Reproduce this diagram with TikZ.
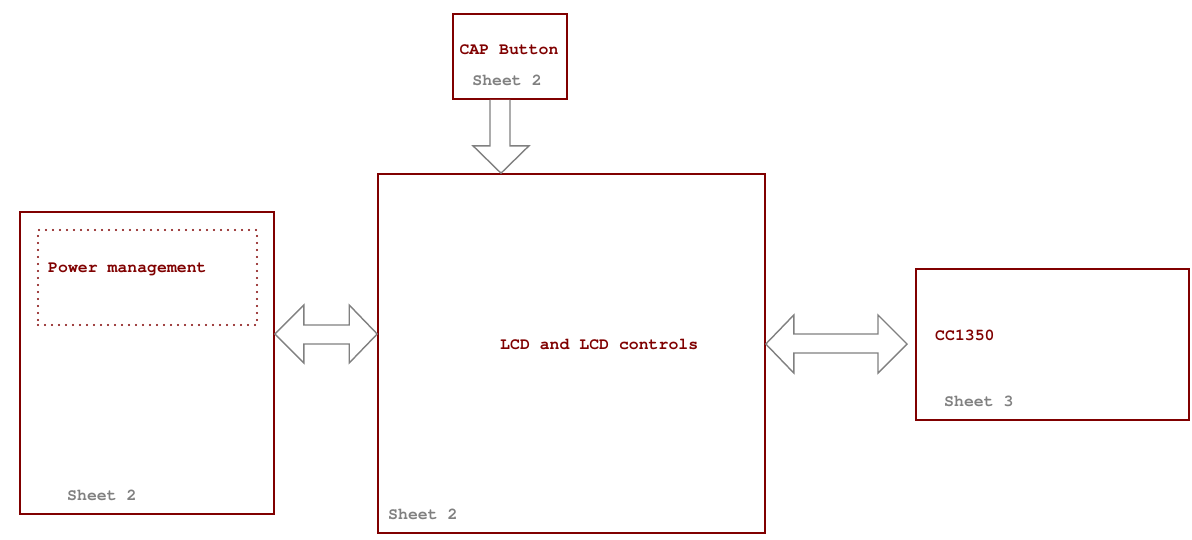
\documentclass[tikz,border=0pt]{standalone}
\usepackage{fontspec}
\setmonofont{texgyrecursor-regular.otf}[BoldFont=texgyrecursor-bold.otf]
\usetikzlibrary{calc}
\definecolor{dred}{HTML}{800000}
\definecolor{agrey}{HTML}{808080}
\begin{document}
\begin{tikzpicture}[x=1pt,y=-1pt,
  blk/.style={draw=dred,line width=1.6pt,fill=white,rectangle,inner sep=0pt},
  title/.style={text=dred,font=\ttfamily\bfseries\fontsize{16.5}{18}\selectfont,inner sep=0pt},
  sheet/.style={text=agrey,font=\ttfamily\bfseries\fontsize{16.5}{18}\selectfont,inner sep=0pt},
  barrow/.style={draw=agrey,line width=1.4pt,fill=white,line join=miter},
  dotbox/.style={draw=dred,line width=2.2pt,line cap=round,dash pattern=on 0pt off 7pt,rectangle,inner sep=0pt}]
\useasboundingbox[fill=white] (0,0) rectangle (1192,539);
% boxes
\node[blk,minimum width=114pt,minimum height=85pt] (cap) at (510,56.5) {};
\node[blk,minimum width=387pt,minimum height=359pt] (lcd) at (571.5,353.5) {};
\node[blk,minimum width=254pt,minimum height=302pt] (pm) at (147,363) {};
\node[dotbox,minimum width=219pt,minimum height=95pt] (pmi) at (147.5,277.5) {};
\node[blk,minimum width=273pt,minimum height=151pt] (cc) at (1052.5,344.5) {};
% texts
\node[title] (capt) at (509,50) {CAP Button};
\node[sheet] (caps) at (507,80.5) {Sheet 2};
\node[title,anchor=west] (pmt) at (48,269) {Power management};
\node[sheet,anchor=west] (pms) at (67,495.5) {Sheet 2};
\node[title,anchor=west] (lcdt) at (500,344.5) {LCD and LCD controls};
\node[sheet,anchor=west] (lcds) at (388,514.5) {Sheet 2};
\node[title,anchor=west] (cct) at (935,335) {CC1350};
\node[sheet,anchor=west] (ccs) at (944,401.5) {Sheet 3};
% down arrow
\coordinate (d0) at ($(cap.south)+(-10,0)$);
\coordinate (d1) at (lcd.north -| d0);
\draw[barrow] ($(d0)+(-10,0)$) -- ($(d0)+(-10,46)$) -- ($(d0)+(-27,46)$) -- ($(d1)+(1,0)$)
  -- ($(d0)+(29,46)$) -- ($(d0)+(10,46)$) -- ($(d0)+(10,0)$);
% left double arrow
\coordinate (l1) at (pm.east |- 0,334);
\coordinate (l2) at (lcd.west |- 0,334);
\draw[barrow] (l1) -- ($(l1)+(29,-29)$) -- ($(l1)+(29,-9)$) -- ($(l2)+(-28,-9)$) -- ($(l2)+(-28,-29)$)
  -- (l2) -- ($(l2)+(-28,29)$) -- ($(l2)+(-28,10)$) -- ($(l1)+(29,10)$) -- ($(l1)+(29,29)$) -- cycle;
% right double arrow
\coordinate (r1) at (lcd.east |- 0,344);
\coordinate (r2) at (907,344);
\draw[barrow] (r1) -- ($(r1)+(28,-29)$) -- ($(r1)+(28,-10)$) -- ($(r2)+(-29,-10)$) -- ($(r2)+(-29,-29)$)
  -- (r2) -- ($(r2)+(-29,29)$) -- ($(r2)+(-29,9)$) -- ($(r1)+(28,9)$) -- ($(r1)+(28,29)$) -- cycle;
\end{tikzpicture}
\end{document}
